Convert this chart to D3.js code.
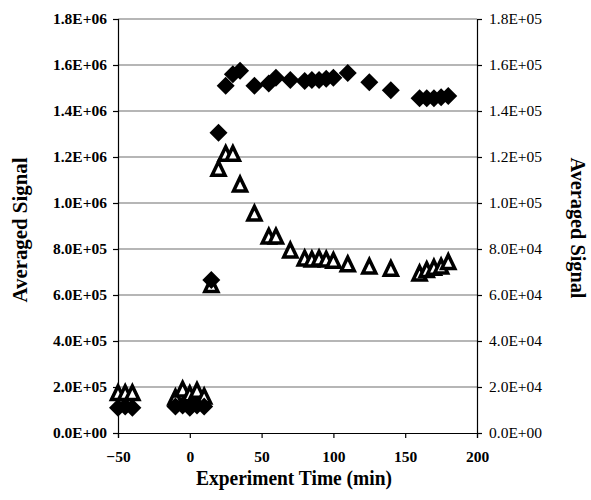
<!DOCTYPE html>
<html>
<head>
<meta charset="utf-8">
<script src="https://cdn.jsdelivr.net/npm/d3@7"></script>
<style>
  body { margin: 0; background: #fff; }
  svg { display: block; font-family: "Liberation Serif", "Times New Roman", serif; }
</style>
</head>
<body>
<div id="chart"></div>
<script>
// experiment time (min) and signal
const diamondTime = [-50, -45, -40, -10, -5, 0, 5, 10,
  15, 20, 25, 30, 35, 45, 55, 60, 70, 80, 85, 90, 95, 100, 110, 125, 140, 160, 165, 170, 175, 180];
const diamondSignal = [1.1e5, 1.15e5, 1.1e5, 1.15e5, 1.2e5, 1.1e5, 1.2e5, 1.15e5,
  6.65e5, 1.305e6, 1.51e6, 1.56e6, 1.575e6, 1.51e6, 1.52e6, 1.545e6, 1.535e6, 1.53e6, 1.535e6,
  1.535e6, 1.54e6, 1.545e6, 1.565e6, 1.525e6, 1.49e6, 1.455e6, 1.455e6, 1.455e6, 1.46e6, 1.465e6];

// triangles belong to the right axis
const triangleTime = [-50, -45, -40, -10, -5, 0, 5, 10,
  15, 20, 25, 30, 35, 45, 55, 60, 70, 80, 85, 90, 95, 100, 110, 125, 140, 160, 165, 170, 175, 180];
const triangleSignal = [1.8e4, 1.8e4, 1.8e4, 1.6e4, 1.95e4, 1.75e4, 1.9e4, 1.65e4,
  6.5e4, 1.155e5, 1.22e5, 1.22e5, 1.087e5, 9.6e4, 8.6e4, 8.6e4, 8.0e4, 7.65e4, 7.6e4,
  7.65e4, 7.6e4, 7.55e4, 7.4e4, 7.3e4, 7.2e4, 7.0e4, 7.15e4, 7.25e4, 7.3e4, 7.5e4];

const xTicks = [-50, 0, 50, 100, 150, 200];
const leftTicks = d3.range(0, 1.8e6 + 1, 2e5);
const rightTicks = d3.range(0, 1.8e5 + 1, 2e4);

const width = 591, height = 500;
const margin = { top: 19, right: 114, bottom: 67, left: 118 };

const svg = d3.select("#chart").append("svg")
  .attr("width", width)
  .attr("height", height);

const x = d3.scaleLinear().domain([-50, 200]).range([margin.left, width - margin.right]);
const yL = d3.scaleLinear().domain([0, 1.8e6]).range([height - margin.bottom, margin.top]);
const yR = d3.scaleLinear().domain([0, 1.8e5]).range([height - margin.bottom, margin.top]);

function sci(v) {
  if (v === 0) return "0.0E+00";
  const e = Math.floor(Math.log10(v) + 1e-9);
  const m = v / Math.pow(10, e);
  return m.toFixed(1) + "E+" + String(e).padStart(2, "0");
}

// gridlines
svg.append("g")
  .selectAll("line")
  .data(leftTicks.filter((d) => d > 0))
  .join("line")
  .attr("x1", x(-50)).attr("x2", x(200))
  .attr("y1", (d) => yL(d)).attr("y2", (d) => yL(d))
  .attr("stroke", "#6e6e6e")
  .attr("stroke-width", 1.2);

const leftAxis = svg.append("g")
  .attr("transform", `translate(${margin.left},0)`)
  .call(d3.axisLeft(yL).tickValues(leftTicks).tickFormat(sci).tickSize(5).tickPadding(6));

const rightAxis = svg.append("g")
  .attr("transform", `translate(${width - margin.right},0)`)
  .call(d3.axisRight(yR).tickValues(rightTicks).tickFormat(sci).tickSize(5).tickPadding(7));

const bottomAxis = svg.append("g")
  .attr("transform", `translate(0,${height - margin.bottom})`)
  .call(d3.axisBottom(x).tickValues(xTicks).tickFormat(d3.format("d")).tickSize(5).tickPadding(13));

for (const ax of [leftAxis, rightAxis, bottomAxis]) {
  ax.select(".domain").attr("stroke", "#000").attr("stroke-width", 1.2);
  ax.selectAll(".tick line").attr("stroke", "#000").attr("stroke-width", 1.2);
  ax.selectAll("text")
    .attr("fill", "#000")
    .style("font-family", "'Liberation Serif', 'Times New Roman', serif")
    .style("font-size", "15.5px")
    .style("font-weight", "bold");
}
rightAxis.selectAll("text").style("font-weight", "normal");
bottomAxis.selectAll("text").attr("dy", "0.71em");

// axis titles
svg.append("text")
  .attr("transform", "translate(27,230) rotate(-90)")
  .attr("text-anchor", "middle")
  .attr("textLength", 145)
  .attr("lengthAdjust", "spacingAndGlyphs")
  .style("font-size", "22px")
  .style("font-weight", "bold")
  .text("Averaged Signal");

svg.append("text")
  .attr("transform", "translate(571,228) rotate(90)")
  .attr("text-anchor", "middle")
  .attr("textLength", 141)
  .attr("lengthAdjust", "spacingAndGlyphs")
  .style("font-size", "21px")
  .style("font-weight", "bold")
  .text("Averaged Signal");

svg.append("text")
  .attr("x", 294)
  .attr("y", 485)
  .attr("text-anchor", "middle")
  .attr("textLength", 196)
  .attr("lengthAdjust", "spacingAndGlyphs")
  .style("font-size", "22px")
  .style("font-weight", "bold")
  .text("Experiment Time (min)");

// triangles (open), path shifted so the outlined box is centred on the point
svg.append("g")
  .selectAll("path")
  .data(triangleTime)
  .join("path")
  .attr("transform", (d, i) => `translate(${x(d)},${yR(triangleSignal[i])})`)
  .attr("d", "M0,-5.6 L6.5,7.9 L-6.5,7.9 Z")
  .attr("fill", "#fff")
  .attr("stroke", "#000")
  .attr("stroke-width", 3.5)
  .attr("stroke-linejoin", "miter");

// diamonds (filled)
svg.append("g")
  .selectAll("path")
  .data(diamondTime)
  .join("path")
  .attr("transform", (d, i) => `translate(${x(d)},${yL(diamondSignal[i])})`)
  .attr("d", "M0,-9 L9,0 L0,9 L-9,0 Z")
  .attr("fill", "#000");
</script>
</body>
</html>
